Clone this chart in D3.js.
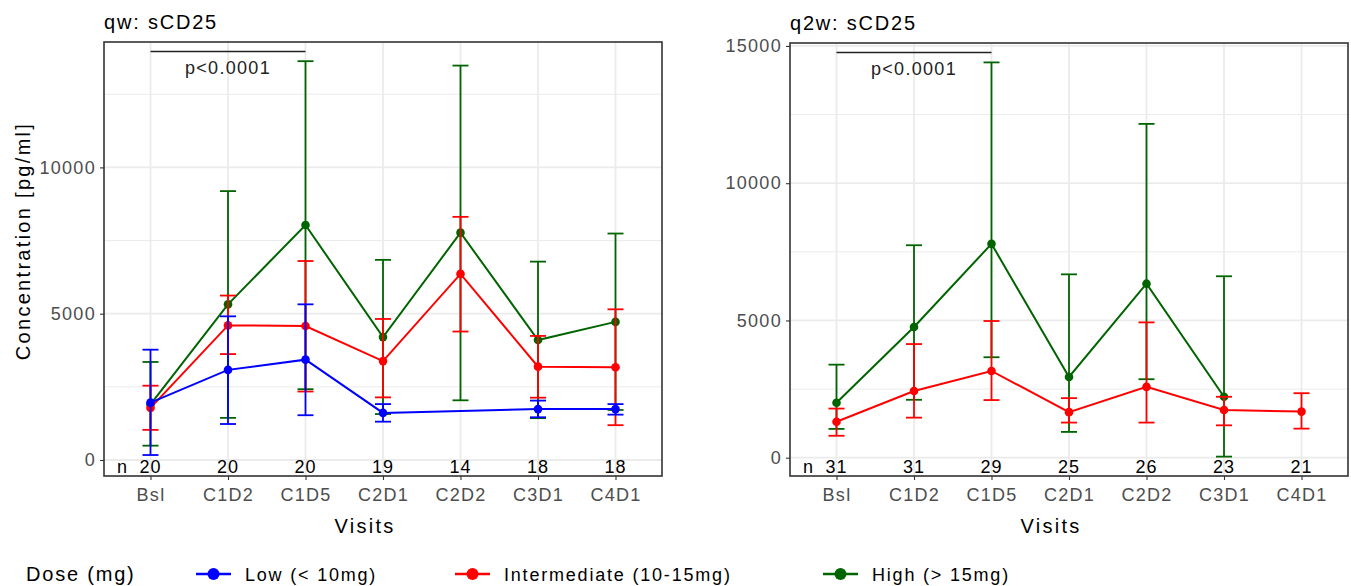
<!DOCTYPE html>
<html lang="en">
<head>
    <meta charset="UTF-8">
    <title>sCD25 by dose</title>
    <script src="https://d3js.org/d3.v7.min.js"></script>
    <style>
        body { margin: 0; background: #fff; }
        svg text { font-family: "Liberation Sans", Arial, sans-serif; }
        .tick-label { fill: #4d4d4d; font-size: 18px; letter-spacing: 1.3px; }
        .n-label { fill: #000; font-size: 18px; letter-spacing: 1px; }
        .title { font-size: 20px; letter-spacing: 1.8px; }
        .axis-title { font-size: 20px; letter-spacing: 2.3px; }
        .legend-text { font-size: 18px; letter-spacing: 1.8px; }
    </style>
</head>
<body>
<script>
    // Visits and sample sizes
    const visits = ["Bsl", "C1D2", "C1D5", "C2D1", "C2D2", "C3D1", "C4D1"];
    const qwN = [20, 20, 20, 19, 14, 18, 18];
    const q2wN = [31, 31, 29, 25, 26, 23, 21];

    // qw panel (null = no value)
    const qwLowMean  = [1960, 3080, 3430, 1610, null, 1740, 1740];
    const qwLowLower = [170, 1230, 1530, 1310, null, 1460, 1550];
    const qwLowUpper = [3770, 4910, 5320, 1910, null, 2030, 1910];

    const qwIntMean  = [1780, 4600, 4580, 3380, 6360, 3190, 3170];
    const qwIntLower = [1030, 3620, 2340, 2140, 4390, 2130, 1190];
    const qwIntUpper = [2540, 5620, 6800, 4820, 8310, 4240, 5150];

    const qwHighMean  = [1900, 5320, 8030, 4200, 7770, 4100, 4720];
    const qwHighLower = [490, 1440, 2420, 1570, 2040, 1430, 1710];
    const qwHighUpper = [3350, 9190, 13630, 6840, 13480, 6780, 7740];

    // q2w panel
    const q2wIntMean  = [1310, 2430, 3160, 1660, 2580, 1740, 1680];
    const q2wIntLower = [800, 1460, 2100, 1280, 1280, 1180, 1060];
    const q2wIntUpper = [1790, 4140, 4980, 2170, 4930, 2220, 2350];

    const q2wHighMean  = [2000, 4760, 7790, 2940, 6340, 2220, null];
    const q2wHighLower = [1050, 2110, 3660, 940, 2860, 40, null];
    const q2wHighUpper = [3390, 7740, 14400, 6680, 12160, 6610, null];

    const qwTicks = [0, 5000, 10000];
    const q2wTicks = [0, 5000, 10000, 15000];

    const doses = ["Low (< 10mg)", "Intermediate (10-15mg)", "High (> 15mg)"];
    const colors = ["#0000ff", "#ff0000", "#006400"];

    const width = 1351;
    const height = 586;

    const svg = d3.select("body").append("svg")
        .attr("width", width)
        .attr("height", height);

    // turn the arrays into rows for one series
    function series(dose, mean, lower, upper) {
        return visits.map((v, i) => ({ visit: v, mean: mean[i], lower: lower[i], upper: upper[i] }))
            .filter(d => d.mean !== null)
            .map(d => Object.assign(d, { dose: dose }));
    }

    const panels = [
        {
            title: "qw: sCD25", left: 104, right: 662, top: 42, bottom: 476,
            domain: [-547, 14286], ticks: qwTicks, n: qwN, yTitle: true,
            // drawn High first so Low sits on top
            series: [
                series(2, qwHighMean, qwHighLower, qwHighUpper),
                series(1, qwIntMean, qwIntLower, qwIntUpper),
                series(0, qwLowMean, qwLowLower, qwLowUpper)
            ]
        },
        {
            title: "q2w: sCD25", left: 790, right: 1348, top: 43, bottom: 476,
            domain: [-666, 15107], ticks: q2wTicks, n: q2wN, yTitle: false,
            series: [
                series(2, q2wHighMean, q2wHighLower, q2wHighUpper),
                series(1, q2wIntMean, q2wIntLower, q2wIntUpper)
            ]
        }
    ];

    for (const p of panels) {
        const x = d3.scalePoint()
            .domain(visits)
            .range([p.left, p.right])
            .padding(0.6);

        const y = d3.scaleLinear()
            .domain(p.domain)
            .range([p.bottom, p.top]);

        const g = svg.append("g");

        // grid: minor, major, then vertical
        const minor = d3.range(2500, p.domain[1], 5000);
        g.selectAll(".minor").data(minor).join("line")
            .attr("x1", p.left).attr("x2", p.right)
            .attr("y1", d => y(d)).attr("y2", d => y(d))
            .attr("stroke", "#ebebeb").attr("stroke-width", 1);

        g.selectAll(".major").data(p.ticks).join("line")
            .attr("x1", p.left).attr("x2", p.right)
            .attr("y1", d => y(d)).attr("y2", d => y(d))
            .attr("stroke", "#ebebeb").attr("stroke-width", 1.8);

        g.selectAll(".vgrid").data(visits).join("line")
            .attr("x1", d => x(d)).attr("x2", d => x(d))
            .attr("y1", p.top).attr("y2", p.bottom)
            .attr("stroke", "#ebebeb").attr("stroke-width", 1.8);

        // y axis
        const yAxis = g.append("g")
            .attr("transform", `translate(${p.left},0)`)
            .call(d3.axisLeft(y).tickValues(p.ticks).tickFormat(d3.format("d")).tickSize(4).tickPadding(4));
        yAxis.select(".domain").remove();
        yAxis.selectAll("line").attr("stroke", "#333").attr("stroke-width", 1.1);
        yAxis.selectAll("text").attr("class", "tick-label").attr("font-size", null).attr("font-family", null);

        // x axis
        const xAxis = g.append("g")
            .attr("transform", `translate(0,${p.bottom})`)
            .call(d3.axisBottom(x).tickSize(4).tickPadding(5));
        xAxis.select(".domain").remove();
        xAxis.selectAll("line").attr("stroke", "#333").attr("stroke-width", 1.1);
        xAxis.selectAll("text").attr("class", "tick-label").attr("font-size", null).attr("font-family", null)
            .attr("dy", "0.9em");

        // lines, error bars and points
        const line = d3.line()
            .x(d => x(d.visit))
            .y(d => y(d.mean));

        for (const s of p.series) {
            const c = colors[s[0].dose];
            const sg = g.append("g");

            sg.append("path")
                .datum(s)
                .attr("fill", "none")
                .attr("stroke", c)
                .attr("stroke-width", 2)
                .attr("d", line);

            sg.selectAll(".bar").data(s).join("line")
                .attr("x1", d => x(d.visit)).attr("x2", d => x(d.visit))
                .attr("y1", d => y(d.lower)).attr("y2", d => y(d.upper))
                .attr("stroke", c).attr("stroke-width", 1.8);

            for (const k of ["lower", "upper"]) {
                sg.selectAll(".cap-" + k).data(s).join("line")
                    .attr("x1", d => x(d.visit) - 8).attr("x2", d => x(d.visit) + 8)
                    .attr("y1", d => y(d[k])).attr("y2", d => y(d[k]))
                    .attr("stroke", c).attr("stroke-width", 1.8);
            }

            sg.selectAll("circle").data(s).join("circle")
                .attr("cx", d => x(d.visit))
                .attr("cy", d => y(d.mean))
                .attr("r", 4.3)
                .attr("fill", c);
        }

        // n row inside the panel
        g.append("text")
            .attr("class", "n-label")
            .attr("x", p.left + 13)
            .attr("y", 473)
            .text("n");

        g.selectAll(".n").data(p.n).join("text")
            .attr("class", "n-label")
            .attr("text-anchor", "middle")
            .attr("x", (d, i) => x(visits[i]))
            .attr("y", 473)
            .text(d => d);

        // significance bracket Bsl - C1D5
        const by = p.top + 9.5;
        g.append("line")
            .attr("x1", x("Bsl")).attr("x2", x("C1D5"))
            .attr("y1", by).attr("y2", by)
            .attr("stroke", "#222").attr("stroke-width", 1.5);

        g.append("text")
            .attr("class", "tick-label")
            .style("fill", "#222")
            .attr("text-anchor", "middle")
            .attr("x", x("C1D2"))
            .attr("y", by + 22)
            .text("p<0.0001");

        // panel border
        g.append("rect")
            .attr("x", p.left).attr("y", p.top)
            .attr("width", p.right - p.left).attr("height", p.bottom - p.top)
            .attr("fill", "none")
            .attr("stroke", "#333").attr("stroke-width", 1.6);

        // title
        svg.append("text")
            .attr("class", "title")
            .attr("x", p.left)
            .attr("y", p.top - 13)
            .text(p.title);

        // x title
        svg.append("text")
            .attr("class", "axis-title")
            .attr("text-anchor", "middle")
            .attr("x", (p.left + p.right) / 2 - 18)
            .attr("y", 533)
            .text("Visits");

        if (p.yTitle) {
            svg.append("text")
                .attr("class", "axis-title")
                .attr("text-anchor", "middle")
                .attr("transform", `translate(30,241) rotate(-90)`)
                .text("Concentration [pg/ml]");
        }
    }

    // legend at the bottom
    const legendY = 574;
    svg.append("text")
        .attr("class", "legend-text")
        .attr("x", 26)
        .attr("y", legendY + 7)
        .style("font-size", "20px")
        .text("Dose (mg)");

    const legendX = [196, 455, 823];
    const legend = svg.selectAll(".legend")
        .data(doses)
        .join("g")
        .attr("transform", (d, i) => `translate(${legendX[i]},${legendY})`);

    legend.append("line")
        .attr("x1", 0).attr("x2", 35)
        .attr("stroke", (d, i) => colors[i])
        .attr("stroke-width", 2.5);

    legend.append("circle")
        .attr("cx", 17.5)
        .attr("r", 6)
        .attr("fill", (d, i) => colors[i]);

    legend.append("text")
        .attr("class", "legend-text")
        .attr("x", 49)
        .attr("y", 6.5)
        .text(d => d);
</script>
</body>
</html>
